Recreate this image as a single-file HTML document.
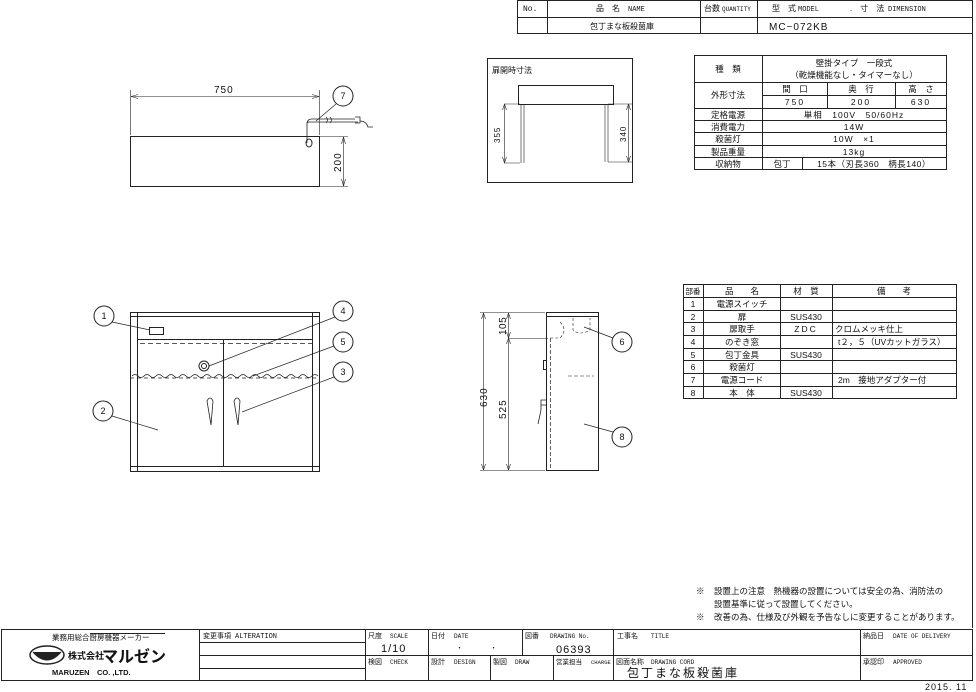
<!DOCTYPE html>
<html><head><meta charset="utf-8"><style>
html,body{margin:0;padding:0;background:#fff;}
svg{display:block;}
text{font-family:"Liberation Sans","Noto Sans CJK JP",sans-serif;fill:#111;}
.m{font-family:"Liberation Mono","Noto Sans CJK JP",monospace;}
</style></head><body>
<svg width="976" height="692" viewBox="0 0 976 692" xmlns="http://www.w3.org/2000/svg">
<g stroke="#222" stroke-width="1" fill="none">
<rect x="517.5" y="0.5" width="455" height="33"/>
<line x1="517" y1="17.5" x2="973" y2="17.5"/>
<line x1="547.5" y1="0" x2="547.5" y2="34"/>
<line x1="700.5" y1="0" x2="700.5" y2="34"/>
<line x1="757.5" y1="0" x2="757.5" y2="34"/>
<line x1="972.5" y1="0" x2="972.5" y2="628"/>
<rect x="694.5" y="55.5" width="252" height="114"/>
<line x1="762.5" y1="55" x2="762.5" y2="170"/>
<line x1="694" y1="82.5" x2="947" y2="82.5"/>
<line x1="762" y1="95.5" x2="947" y2="95.5"/>
<line x1="694" y1="108.5" x2="947" y2="108.5"/>
<line x1="694" y1="120.5" x2="947" y2="120.5"/>
<line x1="694" y1="132.5" x2="947" y2="132.5"/>
<line x1="694" y1="145.5" x2="947" y2="145.5"/>
<line x1="694" y1="157.5" x2="947" y2="157.5"/>
<line x1="827.5" y1="82" x2="827.5" y2="108"/>
<line x1="895.5" y1="82" x2="895.5" y2="108"/>
<line x1="802.5" y1="157" x2="802.5" y2="170"/>
<rect x="683.5" y="284.5" width="273" height="114"/>
<line x1="703.5" y1="284" x2="703.5" y2="399"/>
<line x1="780.5" y1="284" x2="780.5" y2="399"/>
<line x1="832.5" y1="284" x2="832.5" y2="399"/>
<line x1="683" y1="297.5" x2="957" y2="297.5"/>
<line x1="683" y1="310.5" x2="957" y2="310.5"/>
<line x1="683" y1="322.5" x2="957" y2="322.5"/>
<line x1="683" y1="335.5" x2="957" y2="335.5"/>
<line x1="683" y1="348.5" x2="957" y2="348.5"/>
<line x1="683" y1="360.5" x2="957" y2="360.5"/>
<line x1="683" y1="373.5" x2="957" y2="373.5"/>
<line x1="683" y1="386.5" x2="957" y2="386.5"/>
<rect x="1.5" y="629.5" width="971" height="51"/>
<line x1="199.5" y1="629" x2="199.5" y2="681"/>
<line x1="365.5" y1="629" x2="365.5" y2="681"/>
<line x1="428.5" y1="629" x2="428.5" y2="681"/>
<line x1="522.5" y1="629" x2="522.5" y2="655"/>
<line x1="490.5" y1="655" x2="490.5" y2="681"/>
<line x1="553.5" y1="655" x2="553.5" y2="681"/>
<line x1="613.5" y1="629" x2="613.5" y2="681"/>
<line x1="860.5" y1="629" x2="860.5" y2="681"/>
<line x1="199" y1="642.5" x2="365" y2="642.5"/>
<line x1="199" y1="668.5" x2="365" y2="668.5"/>
<line x1="199" y1="655.5" x2="973" y2="655.5"/>
<line x1="90" y1="633.5" x2="165" y2="633.5"/>

<rect x="130.5" y="136.5" width="189" height="50"/>
<line x1="130.5" y1="90" x2="130.5" y2="135" stroke-width="0.6"/>
<line x1="319.5" y1="90" x2="319.5" y2="135" stroke-width="0.6"/>
<line x1="131" y1="96.5" x2="319" y2="96.5" stroke-width="0.6"/>
<path d="M131 96.5 l7 -2 M131 96.5 l7 2 M319 96.5 l-7 -2 M319 96.5 l-7 2" stroke-width="0.6"/>
<line x1="320" y1="136.5" x2="348" y2="136.5" stroke-width="0.6"/>
<line x1="320" y1="186.5" x2="348" y2="186.5" stroke-width="0.6"/>
<line x1="343.5" y1="137" x2="343.5" y2="186" stroke-width="0.6"/>
<path d="M343.5 137 l-2 7 M343.5 137 l2 7 M343.5 186 l-2 -7 M343.5 186 l2 -7" stroke-width="0.6"/>
<path d="M307 143 V124 Q307 122 309 122 H337 M307 124 Q307 119 312 119 H338 M337 122 H358 M337 119 H355 M355 117 H360 V123 H355 M360 121 Q366 121 368 127 H373" stroke-width="0.8"/>
<path d="M326 117 q3 3 0 6 M330 117 q3 3 0 6" stroke-width="0.7"/>
<ellipse cx="309" cy="143" rx="3" ry="4"/>
<circle cx="343" cy="96" r="10"/>
<line x1="336" y1="104" x2="316" y2="121" stroke-width="0.7"/>

<rect x="487.5" y="58.5" width="145" height="124"/>
<rect x="518.5" y="85.5" width="95" height="19"/>
<path d="M521 104 V163 M524 104 V163 M605 104 V162 M608 104 V162" stroke-width="0.6"/>
<path d="M504 104 H520 M504 163 H520 M608 104 H632 M608 162 H632" stroke-width="0.6"/>
<path d="M504.5 104 V163 M628.5 104 V162" stroke-width="0.6"/>
<path d="M504.5 104 l-2 6 M504.5 104 l2 6 M504.5 163 l-2 -6 M504.5 163 l2 -6 M628.5 104 l-2 6 M628.5 104 l2 6 M628.5 162 l-2 -6 M628.5 162 l2 -6" stroke-width="0.6"/>

<rect x="130.5" y="312.5" width="189" height="159"/>
<line x1="137.5" y1="313" x2="137.5" y2="471"/>
<line x1="312.5" y1="313" x2="312.5" y2="471"/>
<line x1="131" y1="316.5" x2="319" y2="316.5"/>
<line x1="131" y1="466.5" x2="319" y2="466.5"/>
<line x1="137" y1="339.5" x2="312" y2="339.5"/>
<line x1="140" y1="343.5" x2="312" y2="343.5" stroke-dasharray="5,3" stroke-width="0.7"/>
<line x1="223.5" y1="339" x2="223.5" y2="466"/>
<path d="M130 378 H320" stroke-dasharray="4,3" stroke-width="0.8"/>
<path d="M132 376 q3 -3 6 0 q3 3 6 0 q3 -3 6 0 q3 3 6 0 q3 -3 6 0 q3 3 6 0 q3 -3 6 0 q3 3 6 0 q3 -3 6 0 q3 3 6 0 q3 -3 6 0 q3 3 6 0 q3 -3 6 0 q3 3 6 0 q3 -3 6 0 q3 3 6 0 q3 -3 6 0 q3 3 6 0 q3 -3 6 0 q3 3 6 0 q3 -3 6 0 q3 3 6 0 q3 -3 6 0 q3 3 6 0 q3 -3 6 0 q3 3 6 0 q3 -3 6 0 q3 3 6 0 q3 -3 6 0 q3 3 6 0 q3 -3 6 0" stroke-width="0.8"/>
<rect x="149.5" y="327.5" width="14" height="7"/>
<circle cx="204" cy="366" r="5"/><circle cx="204" cy="366" r="2.5"/>
<path d="M207 401 q3 -6 6 0 l-2 24 Z M234 401 q3 -6 6 0 l-2 24 Z" stroke-width="0.8"/>
<circle cx="104" cy="316" r="10"/><circle cx="103" cy="411" r="10"/>
<circle cx="343" cy="372" r="10"/><circle cx="343" cy="311" r="10"/><circle cx="343" cy="342" r="10"/>
<path d="M112 322 L150 330 M112 416 L158 430 M334 377 L242 412 M335 317 L209 366 M334 346 L253 376" stroke-width="0.7"/>

<rect x="546.5" y="312.5" width="52" height="158"/>
<line x1="547" y1="316.5" x2="598" y2="316.5"/>
<line x1="550.5" y1="338" x2="550.5" y2="468" stroke-dasharray="4,2" stroke-width="0.7"/>
<path d="M480 312.5 H545 M480 470.5 H545 M508 338.5 H548" stroke-width="0.6"/>
<path d="M483.5 313 V470 M508.5 313 V470" stroke-width="0.6"/>
<path d="M483.5 313 l-2 6 M483.5 313 l2 6 M483.5 470 l-2 -6 M483.5 470 l2 -6 M508.5 313 l-2 6 M508.5 313 l2 6 M508.5 338 l-2 -6 M508.5 338 l2 -6 M508.5 338 l-2 6 M508.5 338 l2 6 M508.5 470 l-2 -6 M508.5 470 l2 -6" stroke-width="0.6"/>
<path d="M573 318 V330 Q580 336 590 330 V318" stroke-dasharray="3,2" stroke-width="0.6"/>
<path d="M560 322 q8 8 0 16 H550" stroke-dasharray="3,2" stroke-width="0.6"/>
<path d="M568 376 H594" stroke-dasharray="4,2" stroke-width="0.6"/>
<rect x="543.5" y="360.5" width="3" height="9"/>
<path d="M546 400 H541 V410 L538 424 M541 405 H546" stroke-width="0.8"/>
<circle cx="622" cy="342" r="10"/><circle cx="622" cy="437" r="10"/>
<path d="M613 338 L584 327 M613 432 L584 424" stroke-width="0.7"/>
<ellipse cx="47" cy="655" rx="17" ry="9" stroke-width="1.5"/>
<path d="M33 652 Q47 668 61 652" fill="#222"/>
</g>

<g font-size="8">
<text x="523" y="11" class="m">No.</text>
<text x="596" y="11">品　名</text><text x="628" y="11" class="m" font-size="7">NAME</text>
<text x="704" y="11">台数</text><text x="722" y="11" class="m" font-size="6">QUANTITY</text>
<text x="772" y="11">型　式</text><text x="798" y="11" class="m" font-size="7">MODEL</text>
<text x="850" y="11">.　寸　法</text><text x="888" y="11" class="m" font-size="7">DIMENSION</text>
<text x="590" y="29">包丁まな板殺菌庫</text>
<text x="769" y="30" font-size="10" letter-spacing="1">MC−072KB</text>
</g>

<g font-size="8.5" text-anchor="middle">
<text x="728" y="72">種　類</text>
<text x="854" y="66">壁掛タイプ　一段式</text>
<text x="854" y="78">（乾燥機能なし・タイマーなし）</text>
<text x="728" y="98">外形寸法</text>
<text x="795" y="92">間　口</text><text x="861" y="92">奥　行</text><text x="921" y="92">高　さ</text>
<text x="795" y="105" letter-spacing="2">750</text><text x="861" y="105" letter-spacing="2">200</text><text x="921" y="105" letter-spacing="2">630</text>
<text x="728" y="118">定格電源</text><text x="854" y="118" letter-spacing="1">単相　100V　50/60Hz</text>
<text x="728" y="130">消費電力</text><text x="854" y="130" letter-spacing="1">14W</text>
<text x="728" y="142">殺菌灯</text><text x="854" y="142" letter-spacing="1">10W　×1</text>
<text x="728" y="155">製品重量</text><text x="854" y="155" letter-spacing="1">13kg</text>
<text x="728" y="167">収納物</text><text x="782" y="167">包丁</text>
<text x="874" y="167" letter-spacing="0.5">15本（刃長360　柄長140）</text>
</g>

<g font-size="8.5">
<g text-anchor="middle">
<text x="693" y="294" font-size="7.5">部番</text><text x="742" y="294">品　　名</text><text x="806" y="294">材　質</text><text x="894" y="294">備　　考</text>
<text x="693" y="307">1</text><text x="742" y="307">電源スイッチ</text>
<text x="693" y="320">2</text><text x="742" y="320">扉</text><text x="806" y="320">SUS430</text>
<text x="693" y="332">3</text><text x="742" y="332">扉取手</text><text x="806" y="332" letter-spacing="2">ZDC</text>
<text x="693" y="345">4</text><text x="742" y="345">のぞき窓</text>
<text x="693" y="358">5</text><text x="742" y="358">包丁金具</text><text x="806" y="358">SUS430</text>
<text x="693" y="370">6</text><text x="742" y="370">殺菌灯</text>
<text x="693" y="383">7</text><text x="742" y="383">電源コード</text>
<text x="693" y="396">8</text><text x="742" y="396">本　体</text><text x="806" y="396">SUS430</text>
</g>
<text x="835" y="332">クロムメッキ仕上</text>
<text x="838" y="345">t２，５（UVカットガラス）</text>
<text x="838" y="383">2m　接地アダプター付</text>
</g>

<g font-size="10">
<text x="214" y="93" letter-spacing="1">750</text>
<text transform="translate(341,172) rotate(-90)" letter-spacing="1">200</text>
<text x="492" y="73" font-size="8">扉開時寸法</text>
<text transform="translate(500,143) rotate(-90)" font-size="8" letter-spacing="1">355</text>
<text transform="translate(626,142) rotate(-90)" font-size="8" letter-spacing="1">340</text>
<text transform="translate(487,407) rotate(-90)" letter-spacing="1">630</text>
<text transform="translate(506,335) rotate(-90)" letter-spacing="0.5">105</text>
<text transform="translate(506,419) rotate(-90)" letter-spacing="1">525</text>
</g>
<g font-size="9" text-anchor="middle">
<text x="343" y="99">7</text><text x="104" y="319">1</text><text x="103" y="414">2</text>
<text x="343" y="375">3</text><text x="343" y="314">4</text><text x="343" y="345">5</text>
<text x="622" y="345">6</text><text x="622" y="440">8</text>
</g>

<g font-size="8.5">
<text x="696" y="594">※</text><text x="714" y="594">設置上の注意　熱機器の設置については安全の為、消防法の</text>
<text x="714" y="607">設置基準に従って設置してください。</text>
<text x="696" y="620">※</text><text x="714" y="620">改善の為、仕様及び外観を予告なしに変更することがあります。</text>
</g>

<g font-size="7">
<text x="52" y="640" font-size="7.5">業務用総合厨房機器メーカー</text>
<text x="68" y="659" font-size="9" font-weight="bold">株式会社</text>
<text x="102" y="662" font-size="16" font-weight="bold">マルゼン</text>
<text x="52" y="675" font-size="7.5" font-weight="bold">MARUZEN　CO. ,LTD.</text>
<text x="203" y="638">変更事項</text><text x="235" y="638" class="m">ALTERATION</text>
<text x="368" y="638">尺度</text><text x="390" y="638" class="m" font-size="6">SCALE</text>
<text x="381" y="652" font-size="11" letter-spacing="1">1/10</text>
<text x="431" y="638">日付</text><text x="454" y="638" class="m" font-size="6">DATE</text>
<text x="456" y="650">・</text><text x="490" y="650">・</text>
<text x="525" y="638">図番</text><text x="550" y="638" class="m" font-size="6">DRAWING No.</text>
<text x="556" y="653" font-size="11" letter-spacing="1">06393</text>
<text x="617" y="638">工事名</text><text x="651" y="638" class="m" font-size="6">TITLE</text>
<text x="863" y="638">納品日</text><text x="893" y="638" class="m" font-size="6">DATE OF DELIVERY</text>
<text x="368" y="664">検図</text><text x="390" y="664" class="m" font-size="6">CHECK</text>
<text x="431" y="664">設計</text><text x="454" y="664" class="m" font-size="6">DESIGN</text>
<text x="493" y="664">製図</text><text x="515" y="664" class="m" font-size="6">DRAW</text>
<text x="556" y="664" font-size="6.5">営業担当</text><text x="591" y="664" class="m" font-size="5.5">CHARGE</text>
<text x="616" y="664">図面名称</text><text x="651" y="664" class="m" font-size="6">DRAWING CORD</text>
<text x="627" y="677" font-size="12" letter-spacing="2">包丁まな板殺菌庫</text>
<text x="863" y="664">承認印</text><text x="893" y="664" class="m" font-size="6">APPROVED</text>
<text x="925" y="690" font-size="9" letter-spacing="1">2015. 11</text>
</g>
</svg>
</body></html>
